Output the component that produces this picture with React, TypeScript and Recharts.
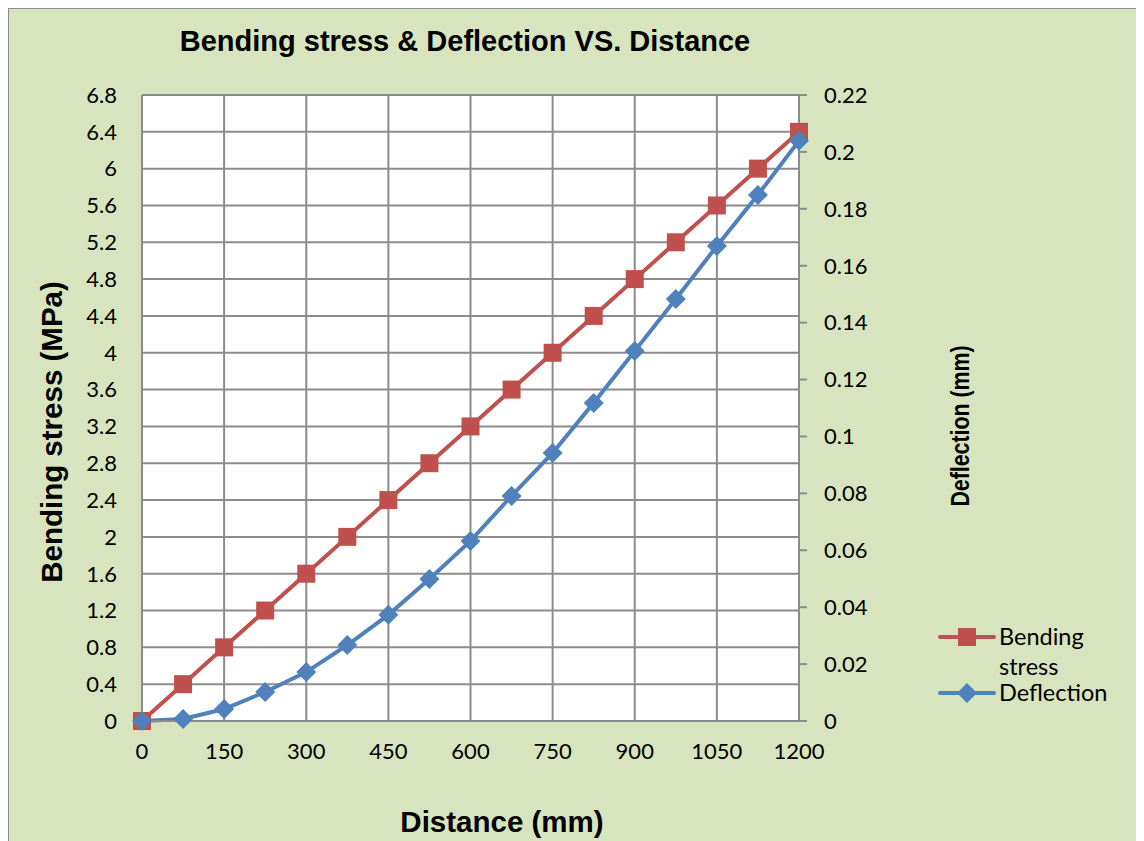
import React from 'react';
import { ComposedChart, Line, XAxis, YAxis, CartesianGrid } from 'recharts';

const distance = [0, 75, 150, 225, 300, 375, 450, 525, 600, 675, 750, 825, 900, 975, 1050, 1125, 1200];
const bendingStress = [0, 0.4, 0.8, 1.2, 1.6, 2, 2.4, 2.8, 3.2, 3.6, 4, 4.4, 4.8, 5.2, 5.6, 6, 6.4];
const deflection = [0, 0.0007, 0.0042, 0.0102, 0.0172, 0.0267, 0.0373, 0.0499, 0.0633, 0.0791, 0.0942, 0.1118, 0.13, 0.1483, 0.1669, 0.1849, 0.2039];

const xTicks = [0, 150, 300, 450, 600, 750, 900, 1050, 1200];
const stressTicks = [0, 0.4, 0.8, 1.2, 1.6, 2, 2.4, 2.8, 3.2, 3.6, 4, 4.4, 4.8, 5.2, 5.6, 6, 6.4, 6.8];
const deflectionTicks = [0, 0.02, 0.04, 0.06, 0.08, 0.1, 0.12, 0.14, 0.16, 0.18, 0.2, 0.22];

const RED = '#C0504D';
const BLUE = '#4F81BD';
const GRID = '#8c8c8c';
const tickFont = { fill: '#000', fontSize: 22, fontFamily: 'Lato' };
const boldFont = "'Liberation Sans', Arial, sans-serif";

const data = distance.map((d, i) => ({
  distance: d,
  stress: bendingStress[i],
  deflection: deflection[i],
}));

const SquareDot = (props: any) => {
  const { cx, cy } = props;
  if (cx == null || cy == null) return null;
  return <rect x={cx - 9} y={cy - 9} width={18} height={18} fill={RED} />;
};

const DiamondDot = (props: any) => {
  const { cx, cy } = props;
  if (cx == null || cy == null) return null;
  return <polygon points={`${cx},${cy - 10} ${cx + 10},${cy} ${cx},${cy + 10} ${cx - 10},${cy}`} fill={BLUE} />;
};

function LegendBox() {
  const text = { fontFamily: 'Lato', fontSize: 23.5, color: '#000', lineHeight: '30px' };
  return (
    <div style={{ position: 'absolute', left: 929, top: 615, width: 190, height: 80 }}>
      <svg width={60} height={80} style={{ position: 'absolute', left: 0, top: 0 }}>
        <line x1={2} y1={13} x2={56} y2={13} stroke={RED} strokeWidth={4} strokeLinecap="round" />
        <rect x={20} y={4} width={18} height={18} fill={RED} />
        <line x1={2} y1={69} x2={56} y2={69} stroke={BLUE} strokeWidth={4} strokeLinecap="round" />
        <polygon points="29,59 39,69 29,79 19,69" fill={BLUE} />
      </svg>
      <div style={{ ...text, position: 'absolute', left: 61, top: -3, width: 100 }}>Bending stress</div>
      <div style={{ ...text, position: 'absolute', left: 61, top: 53 }}>Deflection</div>
    </div>
  );
}

export default function App() {
  return (
    <div
      style={{
        position: 'relative',
        width: 1134,
        height: 840,
        background: '#D7E4BD',
        border: '1px solid #8c8c8c',
        boxSizing: 'border-box',
      }}
    >
      <div
        style={{
          position: 'absolute',
          left: 0,
          width: 912,
          top: 16,
          textAlign: 'center',
          fontFamily: boldFont,
          fontWeight: 'bold',
          fontSize: 29,
        }}
      >
        Bending stress &amp; Deflection VS. Distance
      </div>
      <div
        style={{
          position: 'absolute',
          left: 43,
          top: 423,
          transform: 'translate(-50%, -50%) rotate(-90deg)',
          whiteSpace: 'nowrap',
          fontFamily: boldFont,
          fontWeight: 'bold',
          fontSize: 29.5,
        }}
      >
        Bending stress (MPa)
      </div>
      <div
        style={{
          position: 'absolute',
          left: 951,
          top: 417,
          transform: 'translate(-50%, -50%) rotate(-90deg) scaleX(0.82)',
          whiteSpace: 'nowrap',
          fontFamily: boldFont,
          fontWeight: 'bold',
          fontSize: 26,
        }}
      >
        Deflection (mm)
      </div>
      <div
        style={{
          position: 'absolute',
          left: 0,
          width: 986,
          top: 796,
          textAlign: 'center',
          fontFamily: boldFont,
          fontWeight: 'bold',
          fontSize: 29.5,
        }}
      >
        Distance (mm)
      </div>
      <ComposedChart
        width={1132}
        height={832}
        data={data}
        margin={{ top: 86, right: 212, bottom: 0, left: 0 }}
        style={{ position: 'absolute', left: 0, top: 0 }}
      >
        <CartesianGrid yAxisId="left" stroke={GRID} strokeWidth={2} fill="#fff" />
        <XAxis
          dataKey="distance"
          type="number"
          domain={[0, 1200]}
          ticks={xTicks}
          interval={0}
          height={120}
          tick={tickFont}
          tickLine={false}
          tickSize={6}
          tickMargin={16}
          axisLine={{ stroke: GRID, strokeWidth: 2 }}
        />
        <YAxis
          yAxisId="left"
          domain={[0, 6.8]}
          ticks={stressTicks}
          interval={0}
          width={133}
          tick={tickFont}
          tickLine={false}
          tickSize={6}
          tickMargin={19}
          axisLine={{ stroke: GRID, strokeWidth: 2 }}
        />
        <YAxis
          yAxisId="right"
          orientation="right"
          domain={[0, 0.22]}
          ticks={deflectionTicks}
          interval={0}
          width={130}
          tick={{ ...tickFont, textAnchor: 'start' }}
          tickLine={{ stroke: GRID, strokeWidth: 2 }}
          tickSize={8}
          tickMargin={17}
          axisLine={{ stroke: GRID, strokeWidth: 2 }}
        />
        <Line
          yAxisId="left"
          type="linear"
          dataKey="stress"
          name="Bending stress"
          stroke={RED}
          strokeWidth={4}
          dot={<SquareDot />}
          activeDot={false}
          isAnimationActive={false}
        />
        <Line
          yAxisId="right"
          type="linear"
          dataKey="deflection"
          name="Deflection"
          stroke={BLUE}
          strokeWidth={4}
          dot={<DiamondDot />}
          activeDot={false}
          isAnimationActive={false}
        />
      </ComposedChart>
      <LegendBox />
    </div>
  );
}
